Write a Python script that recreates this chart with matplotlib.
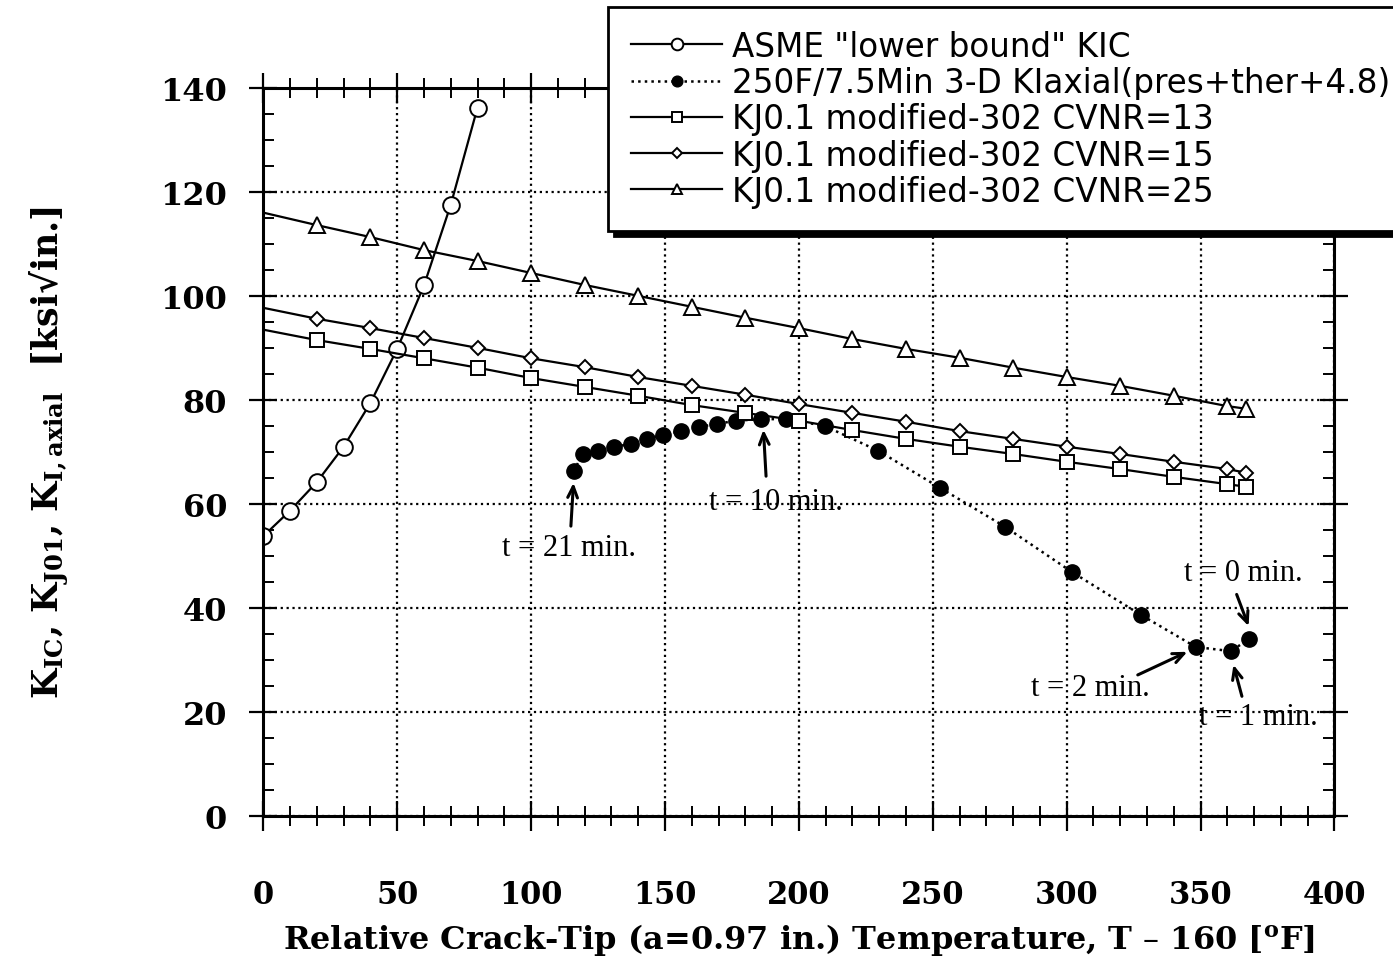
import matplotlib
matplotlib.use("Agg")
import matplotlib.pyplot as plt
from matplotlib.ticker import MultipleLocator

# ---- data ----
asme_x = [0, 10, 20, 30, 40, 50, 60, 70, 80]
asme_y = [53.8, 58.7, 64.2, 71.0, 79.4, 89.8, 102.0, 117.5, 136.2]

kia_x = [115.9, 119.3, 124.9, 130.9, 137.2, 143.3, 149.3, 156.0, 162.7, 169.5, 176.6,
         186.0, 195.3, 209.6, 229.7, 252.7, 277.0, 302.0, 327.6, 348.2, 361.3, 368.0]
kia_y = [66.3, 69.6, 70.2, 71.0, 71.5, 72.5, 73.3, 74.0, 74.8, 75.4, 76.0,
         76.3, 76.3, 75.0, 70.2, 63.1, 55.6, 46.9, 38.7, 32.5, 31.7, 34.0]

kj_x = [0, 20, 40, 60, 80, 100, 120, 140, 160, 180, 200, 220, 240, 260, 280, 300,
        320, 340, 360, 367]
cvnr13 = [93.5, 91.5, 89.8, 88.0, 86.2, 84.2, 82.5, 80.8, 79.0, 77.5, 76.0, 74.2,
          72.5, 71.0, 69.6, 68.1, 66.7, 65.2, 63.8, 63.3]
cvnr15 = [97.7, 95.6, 93.8, 91.9, 90.0, 88.0, 86.3, 84.4, 82.7, 81.0, 79.2, 77.5,
          75.8, 74.0, 72.5, 71.0, 69.6, 68.1, 66.7, 66.0]
cvnr25 = [116.0, 113.6, 111.3, 108.8, 106.7, 104.4, 102.1, 100.0, 97.9, 95.8, 93.8,
          91.7, 89.8, 88.1, 86.2, 84.4, 82.7, 80.8, 78.8, 78.3]

labels = ['ASME "lower bound" KIC',
          '250F/7.5Min 3-D KIaxial(pres+ther+4.8)',
          'KJ0.1 modified-302 CVNR=13',
          'KJ0.1 modified-302 CVNR=15',
          'KJ0.1 modified-302 CVNR=25']

# time labels: (text, text pos, arrow tail, arrow head)
notes = [("t = 21 min.", (114, 51.7), (114.8, 55.2), (115.9, 64.6)),
         ("t = 10 min.", (191.6, 60.4), (187.8, 64.8), (186.7, 74.8)),
         ("t = 0 min.", (366, 46.9), (363.1, 43.1), (368.3, 36.0)),
         ("t = 2 min.", (308.8, 24.8), (325.6, 26.9), (346.0, 31.8)),
         ("t = 1 min.", (371.7, 19.2), (365.7, 22.5), (362.0, 29.6))]

plt.rcParams['mathtext.fontset'] = 'dejavuserif'

fig = plt.figure(figsize=(13.93, 9.62), dpi=100)
ax = fig.add_axes([0.189, 0.1507, 0.769, 0.757])

ax.plot(asme_x, asme_y, 'k-', marker='o', mfc='white', mec='k', ms=12, mew=1.4,
        lw=1.6, label=labels[0])
ax.plot(kia_x, kia_y, 'k:', marker='o', mfc='k', mec='k', ms=11, lw=1.8,
        label=labels[1])
ax.plot(kj_x, cvnr13, 'k-', marker='s', mfc='white', mec='k', ms=10, mew=1.4,
        lw=1.6, markevery=slice(1, None), label=labels[2])
ax.plot(kj_x, cvnr15, 'k-', marker='D', mfc='white', mec='k', ms=7.5, mew=1.4,
        lw=1.6, markevery=slice(1, None), label=labels[3])
ax.plot(kj_x, cvnr25, 'k-', marker='^', mfc='white', mec='k', ms=11, mew=1.4,
        lw=1.6, markevery=slice(1, None), label=labels[4])

for txt, tpos, tail, head in notes:
    ax.text(tpos[0], tpos[1], txt, family='Liberation Serif', fontsize=22,
            ha='center', va='center')
    ax.annotate('', xy=head, xytext=tail,
                arrowprops=dict(arrowstyle='->,head_length=0.8,head_width=0.35',
                                color='k', lw=2.2))

ax.set_xlim(0, 400)
ax.set_ylim(0, 140)
ax.xaxis.set_major_locator(MultipleLocator(50))
ax.xaxis.set_minor_locator(MultipleLocator(10))
ax.yaxis.set_major_locator(MultipleLocator(20))
ax.yaxis.set_minor_locator(MultipleLocator(5))
ax.grid(True, which='major', color='k', linestyle=':', lw=1.6)

ax.tick_params(axis='x', which='major', direction='inout', length=22, width=1.6,
               top=True, bottom=True, pad=34, labelsize=22)
ax.tick_params(axis='x', which='minor', direction='inout', length=14, width=1.4,
               top=True, bottom=True)
ax.tick_params(axis='y', which='major', direction='inout', length=20, width=1.6,
               left=True, right=True, pad=16, labelsize=23)
ax.tick_params(axis='y', which='minor', direction='in', length=8, width=1.4,
               left=True, right=True)
for lab in ax.get_xticklabels() + ax.get_yticklabels():
    lab.set_family('DejaVu Serif')
    lab.set_fontweight('bold')
for sp in ax.spines.values():
    sp.set_linewidth(2.2)

ax.set_xlabel('Relative Crack-Tip (a=0.97 in.) Temperature, T \u2013 160 [$^{\\mathbf{o}}$F]',
              family='DejaVu Serif', fontweight='bold', fontsize=23, labelpad=8)
ax.set_ylabel('K$_{\\mathbf{IC}}$, K$_{\\mathbf{J01}}$, K$_{\\mathbf{I,axial}}$  [ksi\u221ain.]',
              family='DejaVu Serif', fontweight='bold', fontsize=25, labelpad=64)

leg = ax.legend(loc='upper left', bbox_to_anchor=(608 / 1393, 1 - 8 / 962),
                bbox_transform=fig.transFigure, borderaxespad=0, borderpad=0.7,
                prop={'family': 'DejaVu Sans', 'size': 23.5},
                handlelength=2.8, handletextpad=0.3, labelspacing=0.1,
                markerscale=0.7, fancybox=False, framealpha=1, edgecolor='k',
                shadow={'ox': 4, 'oy': -4, 'color': 'k', 'alpha': 1})
leg.get_frame().set_linewidth(2.0)

fig.savefig('out.png', dpi=100)
